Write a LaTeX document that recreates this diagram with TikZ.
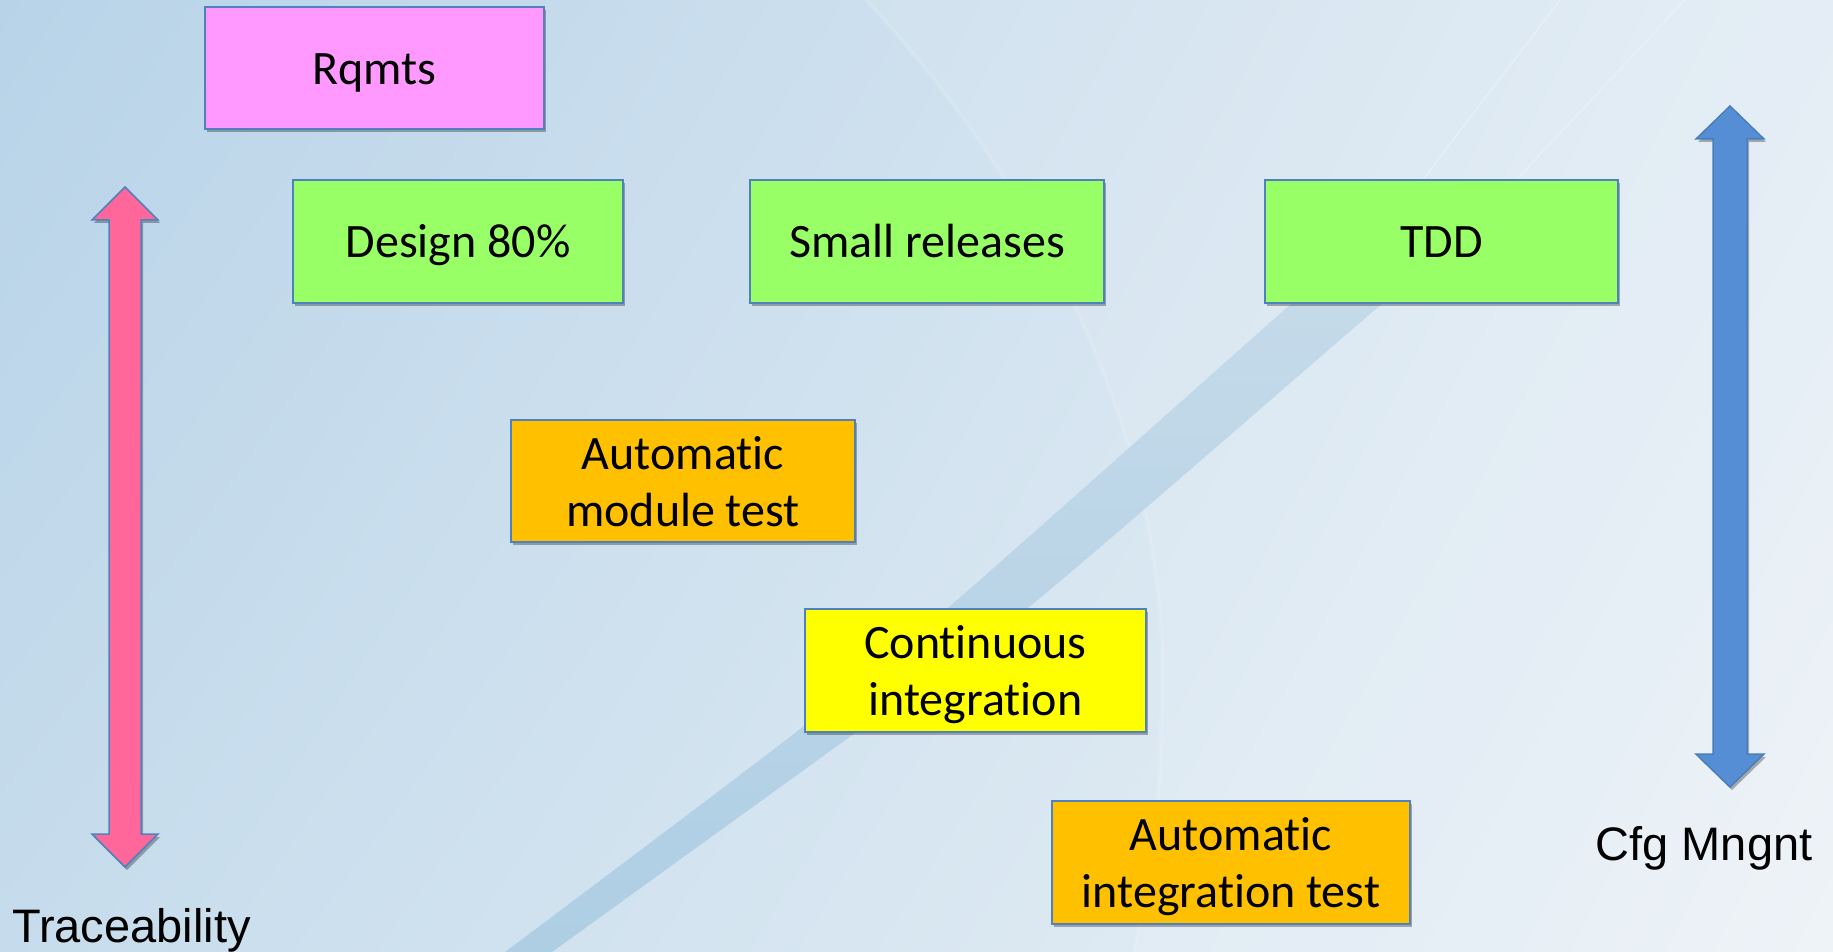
\documentclass[tikz,border=0pt]{standalone}
\usepackage{fontspec}
\setmainfont{Carlito}[Ligatures=NoCommon]
\newfontfamily\arialf{Liberation Sans}
\usetikzlibrary{shadows,shadings}
\definecolor{bgUL}{HTML}{B8D3E8}
\definecolor{bgLL}{HTML}{C6DCEC}
\definecolor{bgUR}{HTML}{E2ECF4}
\definecolor{bgLR}{HTML}{ECF2F7}
\definecolor{bandT}{HTML}{C8DCEA}
\definecolor{bandB}{HTML}{AECEE4}
\definecolor{boxline}{HTML}{4F81BD}
\definecolor{pinkbox}{HTML}{FF99FF}
\definecolor{greenbox}{HTML}{99FF66}
\definecolor{orangebox}{HTML}{FFC000}
\definecolor{yellowbox}{HTML}{FFFF00}
\definecolor{pinkarrow}{HTML}{FF6699}
\definecolor{bluearrow}{HTML}{558ED5}
\definecolor{bluearrowline}{HTML}{4A7EBB}
\begin{document}
\begin{tikzpicture}[x=0.5pt,y=-0.5pt,
  box/.style={draw=boxline, line width=1pt, inner sep=0pt, align=center,
    font=\fontsize{24}{28.5}\selectfont, text=black,
    drop shadow={shadow xshift=1pt, shadow yshift=-1.5pt, opacity=0.3, fill=black}},
  oneline/.style={text height=18.5pt, text depth=2pt},
  twoline/.style={text height=47pt, text depth=2pt},
  lbl/.style={font=\arialf\fontsize{23.5}{28}\selectfont, anchor=base, inner sep=0pt, text=black},
  bigarrow/.style={line width=0.75pt, line join=miter,
    drop shadow={shadow xshift=1pt, shadow yshift=-1.5pt, opacity=0.3, fill=black}}]
% background
\shade[upper left=bgUL, lower left=bgLL, upper right=bgUR, lower right=bgLR]
  (0,0) rectangle (1833,952);
\useasboundingbox (0,0) rectangle (1833,952);
% faint swoosh
\fill[white, opacity=0.1] (866,0) .. controls (1050,200) and (1170,450) .. (1162,700)
  .. controls (1158,820) .. (1134,952) -- (1833,952) -- (1833,0) -- cycle;
\draw[white, opacity=0.12, line width=2pt] (866,0) .. controls (1050,200) and (1170,450) .. (1162,700)
  .. controls (1158,820) .. (1134,952);
% diagonal band
\shade[top color=bandT, bottom color=bandB]
  plot[smooth] coordinates {(505,952) (795,733) (949,607) (1292,303) (1420,190)}
  -- plot[smooth] coordinates {(1520,190) (1383,303) (1029,607) (855,733) (552,952)} -- cycle;
\draw[white, opacity=0.25, line width=0.8pt] (1424,178) -- (1560,0);
\draw[white, opacity=0.25, line width=0.8pt] (1518,178) -- (1685,0);
% boxes
\node[box, oneline, fill=pinkbox, minimum width=169.5pt, minimum height=61pt] (rq) at (374.5,68) {Rqmts};
\node[box, oneline, fill=greenbox, minimum width=165pt, minimum height=61.5pt] (des) at (458,241.5) {Design 80\%};
\node[box, oneline, fill=greenbox, minimum width=177pt, minimum height=61.5pt] (sr) at (927,241.5) {Small releases};
\node[box, oneline, fill=greenbox, minimum width=176.5pt, minimum height=61.5pt] (tdd) at (1441.5,241.5) {TDD};
\node[box, twoline, fill=orangebox, minimum width=172pt, minimum height=61pt] (amt) at (683,481) {Automatic\\module test};
\node[box, twoline, fill=yellowbox, minimum width=170.5pt, minimum height=61.5pt] (ci) at (975.5,670.5) {Continuous\\integration};
\node[box, twoline, fill=orangebox, minimum width=179pt, minimum height=61.5pt] (ait) at (1231,862.5) {Automatic\\integration test};
% double arrows
\path[bigarrow, draw=boxline, fill=pinkarrow]
  (125,187) -- (158,220) -- (141,220) -- (141,834) -- (158,834) -- (125,867)
  -- (92,834) -- (109,834) -- (109,220) -- (92,220) -- cycle;
\path[bigarrow, draw=bluearrowline, fill=bluearrow]
  (1730,106) -- (1764,139) -- (1747,139) -- (1747,754) -- (1764,754) -- (1730,787)
  -- (1696,754) -- (1713,754) -- (1713,139) -- (1696,139) -- cycle;
% labels
\node[lbl] (trace) at (131.5,942) {Traceability};
\node[lbl] (cfg) at (1704,860) {Cfg Mngnt};
\end{tikzpicture}
\end{document}
